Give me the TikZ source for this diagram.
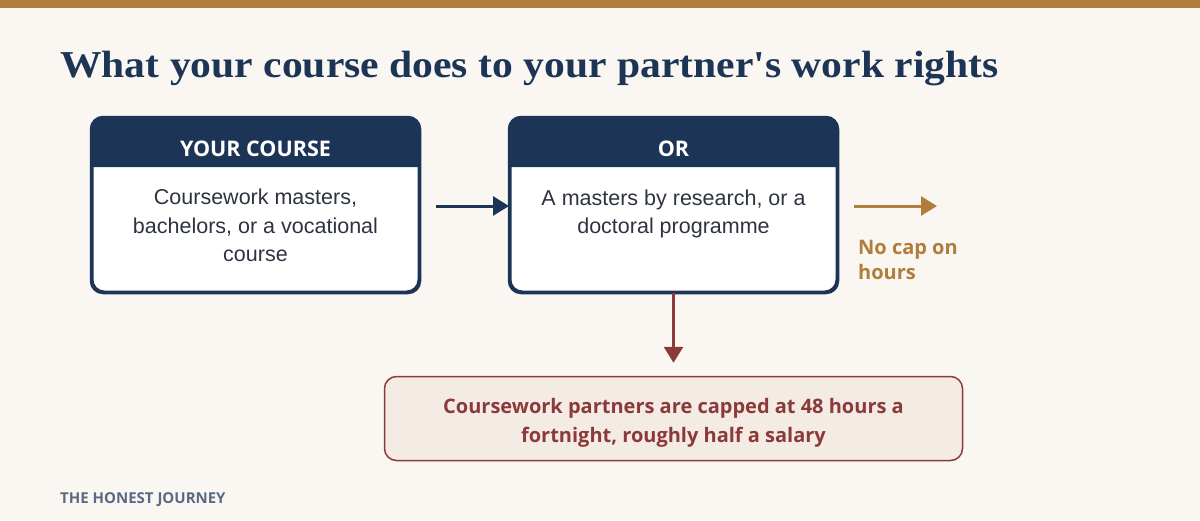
\documentclass[tikz,border=0pt]{standalone}
\usepackage{fontspec}
\setmainfont{Liberation Serif}
\newfontfamily\bodyfont{Liberation Sans}
\newfontfamily\uifont{Open Sans}
\usetikzlibrary{arrows.meta,calc}
\definecolor{bg}{HTML}{FAF7F2}
\definecolor{gold}{HTML}{B07D3C}
\definecolor{navy}{HTML}{1C3556}
\definecolor{txt}{HTML}{2D3340}
\definecolor{wine}{HTML}{8B3A3A}
\definecolor{pink}{HTML}{F5EBE5}
\definecolor{foot}{HTML}{5A6A85}
\tikzset{
  card/.style={draw=navy, line width=2.5pt, rounded corners=12pt, fill=white, minimum width=326.5pt, minimum height=173.5pt, inner sep=0pt},
  headtext/.style={text=white, font=\uifont\bfseries\fontsize{21.5}{24}\selectfont},
  bodytext/.style={text=txt, font=\bodyfont\fontsize{21.5}{28.5}\selectfont, align=center, inner sep=0pt, anchor=base},
  conn/.style={line width=3pt, -{Triangle[length=16pt,width=19pt]}},
}
\begin{document}
\begin{tikzpicture}[x=1pt,y=-1pt]
\fill[bg] (0,0) rectangle (1200,520);
\useasboundingbox (0,0) rectangle (1200,520);
\fill[gold] (0,0) rectangle (1200,8);
\node[anchor=base west, inner sep=0pt, text=navy, font=\bfseries\fontsize{38}{40}\selectfont] (title) at (60,77) {\scalebox{1.095}[1]{What your course does to your partner\textquotesingle s work rights}};
% box 1
\node[card] (b1) at (255.5,205) {};
\fill[navy] ([yshift=-50pt]b1.north west) [rounded corners=12pt] -- (b1.north west) -- (b1.north east) [sharp corners] -- ([yshift=-50pt]b1.north east) -- cycle;
\draw[navy, line width=2.5pt, rounded corners=12pt] (b1.north west) rectangle (b1.south east);
\node[headtext] (h1) at ([yshift=-32pt]b1.north) {YOUR COURSE};
\node[bodytext] (t1) at ([yshift=-144.5pt]b1.north) {Coursework masters,\\bachelors, or a vocational\\course};
% box 2
\node[card] (b2) at (673.5,205) {};
\fill[navy] ([yshift=-50pt]b2.north west) [rounded corners=12pt] -- (b2.north west) -- (b2.north east) [sharp corners] -- ([yshift=-50pt]b2.north east) -- cycle;
\draw[navy, line width=2.5pt, rounded corners=12pt] (b2.north west) rectangle (b2.south east);
\node[headtext] (h2) at ([yshift=-32pt]b2.north) {OR};
\node[bodytext] (t2) at ([yshift=-116.5pt]b2.north) {A masters by research, or a\\doctoral programme};
% box 3
\node[draw=wine, line width=1.5pt, fill=pink, rounded corners=12pt, minimum width=578pt, minimum height=84pt] (b3) at (673.5,418.5) {};
\node[text=wine, font=\uifont\bfseries\fontsize{20}{29}\selectfont, align=center, anchor=base, inner sep=0pt] (t3) at ([yshift=-23.5pt]b3.center) {Coursework partners are capped at 48 hours a\\fortnight, roughly half a salary};
% connectors
\coordinate (a1s) at (436,206);
\draw[conn, navy] (a1s) -- (b2.west |- a1s);
\coordinate (a2s) at (854,206);
\coordinate (a2e) at (937,206);
\draw[conn, gold] (a2s) -- (a2e);
\draw[conn, wine] (b2.south) -- ([yshift=13pt]b3.north);
\node[anchor=base west, inner sep=0pt, text=gold, align=left, font=\uifont\bfseries\fontsize{20}{25}\selectfont] (nocap) at (858,279) {No cap on\\hours};
\node[anchor=base west, inner sep=0pt, text=foot, font=\uifont\bfseries\fontsize{15}{16}\selectfont] (footer) at (60,503) {THE HONEST JOURNEY};
\end{tikzpicture}
\end{document}
